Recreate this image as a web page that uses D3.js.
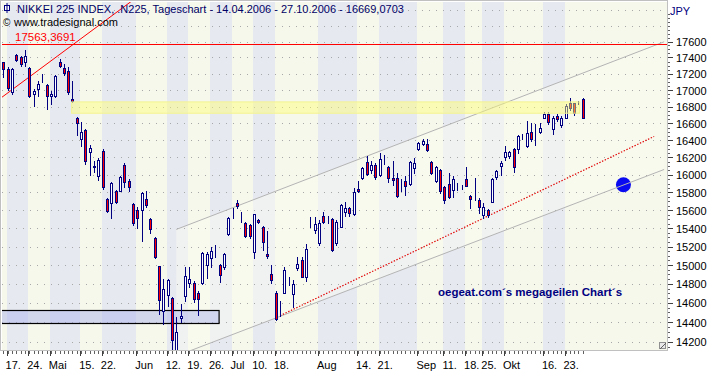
<!DOCTYPE html>
<html>
<head>
<meta charset="utf-8">
<script src="https://cdn.jsdelivr.net/npm/d3@7"></script>
<style>
  body { margin: 0; background: #fff; }
  svg { display: block; }
  text { font-family: "Liberation Sans", Arial, sans-serif; }
</style>
</head>
<body>
<svg id="chart" width="713" height="378"></svg>
<script>
// trading days 14.04.2006 - 27.10.2006 (TSE)
const days = [
  "14.04","17.04","18.04","19.04","20.04","21.04","24.04","25.04","26.04","27.04","28.04",
  "01.05","02.05","08.05","09.05","10.05","11.05","12.05","15.05","16.05","17.05","18.05","19.05",
  "22.05","23.05","24.05","25.05","26.05","29.05","30.05","31.05",
  "01.06","02.06","05.06","06.06","07.06","08.06","09.06","12.06","13.06","14.06","15.06","16.06",
  "19.06","20.06","21.06","22.06","23.06","26.06","27.06","28.06","29.06","30.06",
  "03.07","04.07","05.07","06.07","07.07","10.07","11.07","12.07","13.07","14.07",
  "18.07","19.07","20.07","21.07","24.07","25.07","26.07","27.07","28.07","31.07",
  "01.08","02.08","03.08","04.08","07.08","08.08","09.08","10.08","11.08","14.08","15.08","16.08",
  "17.08","18.08","21.08","22.08","23.08","24.08","25.08","28.08","29.08","30.08","31.08",
  "01.09","04.09","05.09","06.09","07.09","08.09","11.09","12.09","13.09","14.09","15.09",
  "19.09","20.09","21.09","22.09","25.09","26.09","27.09","28.09","29.09",
  "02.10","03.10","04.10","05.10","06.10","10.10","11.10","12.10","13.10",
  "16.10","17.10","18.10","19.10","20.10","23.10","24.10","25.10","26.10","27.10"
];

const opens = [
  17341,17257,16978,17432,17403,17348,17266,16950,17011,17134,17060,
  16929,16929,17348,17266,17229,16897,16668,16409,16520,16260,16088,15990,
  16272,15724,15679,15810,15821,16117,15933,15671,
  15603,15603,15724,15499,15288,14986,14519,14684,14648,14090,14443,14669,
  14811,14811,14706,14811,14997,15080,15171,14997,14979,15332,
  15578,15686,15517,15454,15436,15142,15491,15411,15124,14908,
  14706,14491,14702,14818,14695,14972,15058,14872,15461,15380,
  15233,15536,15499,15499,15233,15418,15584,15622,15555,15837,15963,16148,
  16051,16117,15993,16175,16090,15963,15963,15894,15933,15894,16078,
  16292,16362,16362,16148,15925,16059,15863,15894,15829,15867,15867,
  15952,15762,15837,15716,15547,15603,15697,15975,16098,
  16202,16214,16300,16292,16448,16331,16500,16389,16500,
  16668,16708,16528,16688,16576,16668,16840,16840,16852,16897
];
const highs = [
  17350,17282,17270,17445,17420,17496,17282,17011,17113,17195,17073,
  16990,17183,17382,17320,17278,17113,16675,16620,16528,16339,16155,16198,
  16292,15739,15921,15829,15982,16136,15952,15677,
  15640,15799,15810,15517,15303,14986,14854,14854,14658,14450,14592,14979,
  14979,14826,14720,15142,15142,15196,15214,15008,15135,15528,
  15622,15716,15584,15469,15447,15555,15502,15425,15369,14997,
  14720,14624,14979,14872,14836,15087,15087,15225,15521,15521,
  15491,15584,15536,15510,15491,15671,15697,15640,15850,15925,16090,16213,
  16155,16136,16253,16233,16105,16155,16021,15952,15982,16155,16194,
  16378,16417,16409,16155,16098,16071,15875,16021,15990,15910,15885,
  16094,15773,15963,15734,15679,15614,15963,16059,16163,
  16331,16272,16312,16460,16476,16627,16608,16596,16608,
  16732,16732,16688,16708,16684,16828,16909,16848,16868,16905
];
const lows = [
  17162,16999,16950,17357,17300,17300,16910,16804,16929,17092,16768,
  16828,16910,17288,17183,16950,16856,16465,16327,16128,16001,16036,15944,
  15840,15584,15513,15679,15810,15860,15810,15436,
  15399,15261,15640,15343,15073,14485,14381,14571,14045,14040,14398,14624,
  14765,14606,14474,14800,14860,14979,15087,14818,14962,15325,
  15510,15622,15472,15299,15288,15077,15461,15160,15073,14807,
  14422,14467,14702,14783,14554,14943,14872,14829,15418,15343,
  15214,15458,15458,15152,15214,15418,15536,15540,15547,15801,15952,16001,
  16021,15952,15982,16125,15913,15887,15753,15810,15773,15887,16021,
  16284,16350,16272,16013,15913,15795,15679,15734,15753,15829,15840,
  15867,15622,15716,15566,15510,15521,15697,15952,16001,
  16175,16194,16028,16253,16409,16323,16390,16350,16488,
  16660,16588,16477,16623,16560,16660,16760,16696,16828,16669
];
const closes = [
  17257,17020,17257,17366,17320,17424,16922,16990,17073,17134,16922,
  16950,17175,17300,17204,16970,16868,16608,16496,16155,16315,16105,16167,
  15860,15595,15905,15697,15975,15918,15860,15461,
  15510,15792,15659,15388,15087,14631,14748,14836,14219,14301,14467,14879,
  14854,14642,14642,15135,15124,15149,15171,14890,15124,15510,
  15578,15648,15517,15317,15314,15555,15472,15244,15095,14843,
  14432,14491,14943,14818,14794,15008,14872,15178,15461,15443,
  15461,15472,15499,15160,15472,15659,15629,15566,15799,15810,16078,16013,
  16117,15975,16183,16175,15963,15936,15764,15894,15867,16148,16136,
  16370,16389,16284,16021,16090,15810,15716,15753,15952,15867,15867,
  15875,15724,15837,15633,15633,15547,15952,16040,16136,
  16260,16260,16090,16448,16448,16488,16409,16389,16548,
  16708,16620,16668,16656,16668,16808,16788,16720,16852,16669
];

// x axis: first trading day of each labelled week and its label
const tickDays = ["17.04","24.04","01.05","15.05","22.05","01.06","12.06","19.06","26.06",
  "03.07","10.07","18.07","01.08","14.08","21.08","01.09","11.09","19.09","25.09",
  "02.10","16.10","23.10"];
const tickLabels = ["17.","24.","Mai","15.","22.","Jun","12.","19.","26.",
  "Jul","10.","18.","Aug","14.","21.","Sep","11.","18.","25.",
  "Okt","16.","23."];

const yTicks = [14200,14400,14600,14800,15000,15200,15400,15600,15800,
  16000,16200,16400,16600,16800,17000,17200,17400,17600];

// drawing tools (bar index, price)
const lastHigh = 17563.3691;
const fanLine = [[-0.3, 16913], [30.5, 18150]];
const resistance = {from: 15.8, to: 133.3, lo: 16720, hi: 16856};
const supportBox = {from: -1, to: 49.9, lo: 14394, hi: 14526};
const channelUpper = [[40, 15387], [152.8, 17596]];
const channelLower = [[40, 14055], [152.8, 16061]];
const trendLine = [[64, 14467], [150.5, 16445]];
const marker = [143.4, 15886];

const title = "NIKKEI 225 INDEX, .N225, Tageschart - 14.04.2006 - 27.10.2006 - 16669,0703";

const svg = d3.select("#chart");
const pLeft = 2, pRight = 667, pTop = 2, pBottom = 350;

const x = d3.scaleLinear().domain([0, days.length - 1]).range([3.3, 582.8]);
const y = d3.scaleLog().domain([14200, 17600]).range([341.7, 41.5]);
const px = i => Math.round(x(i));

svg.append("clipPath").attr("id", "clip")
  .append("rect").attr("x", pLeft).attr("y", pTop)
  .attr("width", pRight - pLeft).attr("height", pBottom - pTop);

// week bands
let edges = [pLeft].concat(tickDays.map(d => px(days.indexOf(d)) - 1)).concat([pRight]);
let bands = d3.pairs(edges);
svg.append("g").selectAll("rect").data(bands).enter().append("rect")
  .attr("x", d => d[0]).attr("y", pTop)
  .attr("width", d => d[1] - d[0]).attr("height", pBottom - pTop)
  .attr("fill", (d, i) => i % 2 ? "#e7e9f1" : "#f6f8ec");

let plot = svg.append("g").attr("clip-path", "url(#clip)");

// channel area
let line = d3.line().x(d => x(d[0])).y(d => y(d[1]));
plot.append("path")
  .attr("d", line(channelUpper.concat(channelLower.slice().reverse())) + "Z")
  .attr("fill", "#fbfcf2").attr("opacity", 0.45);

// grid
plot.append("g").selectAll("line").data(d3.range(14200, 18201, 200)).enter().append("line")
  .attr("x1", pLeft).attr("x2", pRight)
  .attr("y1", d => Math.round(y(d)) + 0.5).attr("y2", d => Math.round(y(d)) + 0.5)
  .attr("stroke", "#a8a8a8").attr("stroke-dasharray", "1,6");

// support box
plot.append("rect")
  .attr("x", x(supportBox.from)).attr("width", x(supportBox.to) - x(supportBox.from))
  .attr("y", Math.round(y(supportBox.hi)) + 0.5)
  .attr("height", Math.round(y(supportBox.lo) - y(supportBox.hi)))
  .attr("fill", "#a8b0ee").attr("fill-opacity", 0.45)
  .attr("stroke", "#000").attr("stroke-width", 1.2);

// marker circle
plot.append("circle")
  .attr("cx", x(marker[0])).attr("cy", y(marker[1])).attr("r", 7.5)
  .attr("fill", "#0a0af0");

// channel lines
[channelUpper, channelLower].forEach(c => {
  plot.append("path").attr("d", line(c))
    .attr("fill", "none").attr("stroke", "#b4b4b4").attr("stroke-width", 1);
});
plot.append("path").attr("d", line(trendLine))
  .attr("fill", "none").attr("stroke", "#e00000").attr("stroke-width", 1.2)
  .attr("stroke-dasharray", "1.4,1.6");

// last high and fan line
plot.append("line")
  .attr("x1", pLeft).attr("x2", pRight)
  .attr("y1", Math.round(y(lastHigh)) + 0.5).attr("y2", Math.round(y(lastHigh)) + 0.5)
  .attr("stroke", "#ff0000");
plot.append("path").attr("d", line(fanLine))
  .attr("fill", "none").attr("stroke", "#ff0000").attr("stroke-width", 1);

// candles
let candle = plot.append("g").selectAll("g").data(days).enter().append("g");
candle.append("line")
  .attr("x1", (d, i) => px(i) + 0.5).attr("x2", (d, i) => px(i) + 0.5)
  .attr("y1", (d, i) => Math.round(y(highs[i]))).attr("y2", (d, i) => Math.round(y(lows[i])) + 1)
  .attr("stroke", "#000080");
candle.append("rect")
  .attr("x", (d, i) => px(i) - 0.5)
  .attr("y", (d, i) => Math.round(y(Math.max(opens[i], closes[i]))) + 0.5)
  .attr("width", 2)
  .attr("height", (d, i) => Math.max(0, Math.round(y(Math.min(opens[i], closes[i]))) - Math.round(y(Math.max(opens[i], closes[i])))))
  .attr("fill", (d, i) => closes[i] < opens[i] ? "#ff0000" : "#ffffff")
  .attr("stroke", "#000080");

// resistance zone on top
plot.append("rect")
  .attr("x", x(resistance.from)).attr("width", x(resistance.to) - x(resistance.from))
  .attr("y", y(resistance.hi)).attr("height", y(resistance.lo) - y(resistance.hi))
  .attr("fill", "#ffff70").attr("fill-opacity", 0.45)
  .attr("stroke", "#f4f490").attr("stroke-width", 1);

// frame
svg.append("rect").attr("x", pLeft - 1.5).attr("y", pTop - 1.5)
  .attr("width", pRight - pLeft + 2).attr("height", pBottom - pTop + 2)
  .attr("fill", "none").attr("stroke", "#c0c0c0");

// resize grip
svg.append("rect").attr("x", pRight - 7.5).attr("y", pBottom - 7.5)
  .attr("width", 6).attr("height", 6).attr("fill", "#e8e8e8").attr("stroke", "#909090");
svg.append("line").attr("x1", pRight - 7).attr("y1", pBottom - 1)
  .attr("x2", pRight - 1).attr("y2", pBottom - 7).attr("stroke", "#606060");

// y axis
let yAxis = svg.append("g");
yAxis.selectAll(".minor").data(d3.range(14150, 17951, 50)).enter().append("line")
  .attr("x1", pRight + 1).attr("x2", pRight + 3)
  .attr("y1", d => Math.round(y(d)) + 0.5).attr("y2", d => Math.round(y(d)) + 0.5)
  .attr("stroke", "#606060");
yAxis.selectAll(".major").data(yTicks).enter().append("line")
  .attr("x1", pRight + 1).attr("x2", pRight + 6)
  .attr("y1", d => Math.round(y(d)) + 0.5).attr("y2", d => Math.round(y(d)) + 0.5)
  .attr("stroke", "#404040");
yAxis.selectAll("text").data(yTicks).enter().append("text")
  .attr("x", pRight + 9).attr("y", d => y(d) + 4.5)
  .attr("font-size", 11).attr("fill", "#000").text(d => d);
svg.append("text").attr("x", pRight + 3).attr("y", 15)
  .attr("font-size", 11).attr("fill", "#000080").text("JPY");

// x axis
let xAxis = svg.append("g");
xAxis.selectAll(".minor").data(days).enter().append("line")
  .attr("x1", (d, i) => px(i) + 0.5).attr("x2", (d, i) => px(i) + 0.5)
  .attr("y1", pBottom + 1).attr("y2", pBottom + 4).attr("stroke", "#606060");
xAxis.selectAll(".major").data(tickDays).enter().append("line")
  .attr("x1", d => px(days.indexOf(d)) - 0.5).attr("x2", d => px(days.indexOf(d)) - 0.5)
  .attr("y1", pBottom + 1).attr("y2", pBottom + 6).attr("stroke", "#404040");
xAxis.selectAll("text").data(tickDays).enter().append("text")
  .attr("x", d => x(days.indexOf(d)) - 2).attr("y", 369)
  .attr("font-size", 11).attr("fill", "#000")
  .text((d, i) => tickLabels[i]);

// header texts
svg.append("rect").attr("x", 4.5).attr("y", 5.5).attr("width", 5).attr("height", 5)
  .attr("fill", "#fff").attr("stroke", "#000080");
svg.append("line").attr("x1", 7).attr("x2", 7).attr("y1", 3).attr("y2", 13).attr("stroke", "#000080");
svg.append("text").attr("x", 17).attr("y", 13).attr("font-size", 11)
  .attr("fill", "#000066").text(title);
svg.append("text").attr("x", 3).attr("y", 26).attr("font-size", 10)
  .attr("fill", "#000").text("\u00a9");
svg.append("text").attr("x", 14).attr("y", 26).attr("font-size", 11)
  .attr("fill", "#000").text("www.tradesignal.com");
svg.append("text").attr("x", 15).attr("y", 41).attr("font-size", 11.5)
  .attr("fill", "#ff0000").text("17563,3691");
svg.append("text").attr("x", 438).attr("y", 296).attr("font-size", 11.5)
  .attr("font-weight", "bold").attr("fill", "#000080")
  .text("oegeat.com\u00b4s megageilen Chart\u00b4s");
</script>
</body>
</html>
